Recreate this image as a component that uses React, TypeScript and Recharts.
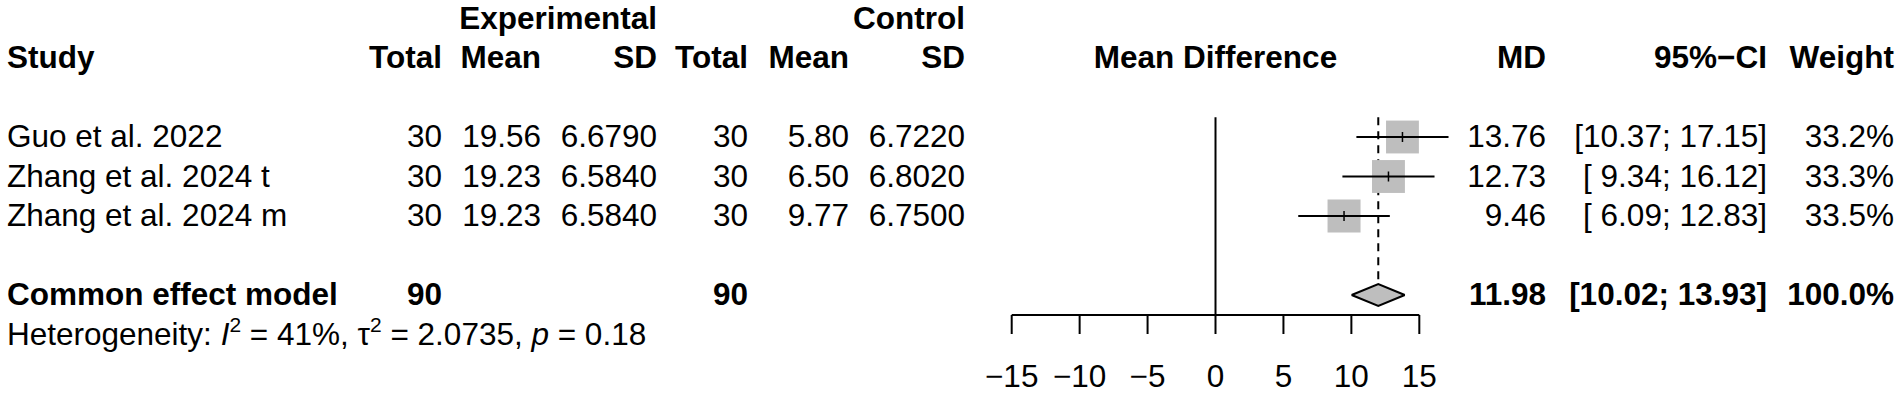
import {
  ComposedChart,
  XAxis,
  YAxis,
  Scatter,
  ErrorBar,
  Area,
  ReferenceLine,
} from 'recharts';

// study level data
const studies = ['Guo et al. 2022', 'Zhang et al. 2024 t', 'Zhang et al. 2024 m'];
const expTotal = [30, 30, 30];
const expMean = [19.56, 19.23, 19.23];
const expSD = [6.679, 6.584, 6.584];
const ctrlTotal = [30, 30, 30];
const ctrlMean = [5.8, 6.5, 9.77];
const ctrlSD = [6.722, 6.802, 6.75];
const md = [13.76, 12.73, 9.46];
const ciLow = [10.37, 9.34, 6.09];
const ciHigh = [17.15, 16.12, 12.83];
const weight = [33.2, 33.3, 33.5];

// pooled (common effect) result
const commonMD = 11.98;
const commonLow = 10.02;
const commonHigh = 13.93;
const commonWeight = 100.0;
const hetI2 = 41;
const hetTau2 = 2.0735;
const hetP = 0.18;

const axisTicks = [-15, -10, -5, 0, 5, 10, 15];

// layout
const FONT = '"Liberation Sans", Arial, Helvetica, sans-serif';
const FS = 31.5;
const BASE_DY = 10;
const ROW_TOP = 18.5;
const ROW_H = 39.5;
const AXIS_Y = 315;
const Y_MAX = (AXIS_Y - ROW_TOP) / ROW_H;
const X_MIN = -15;
const X_MAX = 18;
const PLOT_LEFT = 1011.7;
const PX_PER_UNIT = 13.587;
const PLOT_RIGHT = PLOT_LEFT + (X_MAX - X_MIN) * PX_PER_UNIT;
const W = 1902;
const H = 393;

const col = {
  study: 7,
  expTotal: 442,
  expMean: 541,
  expSD: 657,
  ctrlTotal: 748,
  ctrlMean: 849,
  ctrlSD: 965,
  effect: 1215.5,
  md: 1546,
  ci: 1767,
  weight: 1894,
};

// row indices
const ROW_GROUP = 0;
const ROW_HEAD = 1;
const FIRST_STUDY = 3;
const ROW_SUM = 7;
const ROW_HET = 8;
const rowTicks = [ROW_GROUP, ROW_HEAD, FIRST_STUDY, FIRST_STUDY + 1, FIRST_STUDY + 2, ROW_SUM, ROW_HET];
const DIAMOND_H = 11 / ROW_H;

const studyData = studies.map((name, i) => ({
  name,
  x: md[i],
  y: FIRST_STUDY + i,
  err: [md[i] - ciLow[i], ciHigh[i] - md[i]],
  w: weight[i],
}));

const diamondData = [
  { x: commonLow, d: [ROW_SUM, ROW_SUM] },
  { x: commonMD, d: [ROW_SUM - DIAMOND_H, ROW_SUM + DIAMOND_H] },
  { x: commonHigh, d: [ROW_SUM, ROW_SUM] },
];

const sum = (a: number[]) => a.reduce((s, v) => s + v, 0);
const fmtCI = (lo: number, hi: number) =>
  `[${lo.toFixed(2).padStart(5)}; ${hi.toFixed(2).padStart(5)}]`;

const Txt = ({ x, y, anchor = 'end', bold = false, children }: any) => (
  <text
    x={x}
    y={y + BASE_DY}
    textAnchor={anchor}
    fontFamily={FONT}
    fontSize={FS}
    fontWeight={bold ? 'bold' : 'normal'}
    fill="#000"
    style={{ whiteSpace: 'pre' }}
  >
    {children}
  </text>
);

// whole table row, drawn at the y of each row tick
const TableRow = (props: any) => {
  const { y, payload } = props;
  const r = payload.value;
  if (r === ROW_GROUP) {
    return (
      <g>
        <Txt x={col.expSD} y={y} bold>Experimental</Txt>
        <Txt x={col.ctrlSD} y={y} bold>Control</Txt>
      </g>
    );
  }
  if (r === ROW_HEAD) {
    return (
      <g>
        <Txt x={col.study} y={y} anchor="start" bold>Study</Txt>
        <Txt x={col.expTotal} y={y} bold>Total</Txt>
        <Txt x={col.expMean} y={y} bold>Mean</Txt>
        <Txt x={col.expSD} y={y} bold>SD</Txt>
        <Txt x={col.ctrlTotal} y={y} bold>Total</Txt>
        <Txt x={col.ctrlMean} y={y} bold>Mean</Txt>
        <Txt x={col.ctrlSD} y={y} bold>SD</Txt>
        <Txt x={col.effect} y={y} anchor="middle" bold>Mean Difference</Txt>
        <Txt x={col.md} y={y} bold>MD</Txt>
        <Txt x={col.ci} y={y} bold>{'95%\u2212CI'}</Txt>
        <Txt x={col.weight} y={y} bold>Weight</Txt>
      </g>
    );
  }
  if (r === ROW_SUM) {
    return (
      <g>
        <Txt x={col.study} y={y} anchor="start" bold>Common effect model</Txt>
        <Txt x={col.expTotal} y={y} bold>{sum(expTotal)}</Txt>
        <Txt x={col.ctrlTotal} y={y} bold>{sum(ctrlTotal)}</Txt>
        <Txt x={col.md} y={y} bold>{commonMD.toFixed(2)}</Txt>
        <Txt x={col.ci} y={y} bold>{fmtCI(commonLow, commonHigh)}</Txt>
        <Txt x={col.weight} y={y} bold>{`${commonWeight.toFixed(1)}%`}</Txt>
      </g>
    );
  }
  if (r === ROW_HET) {
    return (
      <text x={col.study} y={y + BASE_DY} fontFamily={FONT} fontSize={FS} fill="#000">
        Heterogeneity:{' '}
        <tspan fontStyle="italic">I</tspan>
        <tspan fontSize={21} dy={-13}>2</tspan>
        <tspan dy={13}>{` = ${hetI2}%, \u03c4`}</tspan>
        <tspan fontSize={21} dy={-13}>2</tspan>
        <tspan dy={13}>{` = ${hetTau2.toFixed(4)}, `}</tspan>
        <tspan fontStyle="italic">p</tspan>
        <tspan>{` = ${hetP.toFixed(2)}`}</tspan>
      </text>
    );
  }
  const i = r - FIRST_STUDY;
  if (i < 0 || i >= studies.length) return <g />;
  return (
    <g>
      <Txt x={col.study} y={y} anchor="start">{studies[i]}</Txt>
      <Txt x={col.expTotal} y={y}>{expTotal[i]}</Txt>
      <Txt x={col.expMean} y={y}>{expMean[i].toFixed(2)}</Txt>
      <Txt x={col.expSD} y={y}>{expSD[i].toFixed(4)}</Txt>
      <Txt x={col.ctrlTotal} y={y}>{ctrlTotal[i]}</Txt>
      <Txt x={col.ctrlMean} y={y}>{ctrlMean[i].toFixed(2)}</Txt>
      <Txt x={col.ctrlSD} y={y}>{ctrlSD[i].toFixed(4)}</Txt>
      <Txt x={col.md} y={y}>{md[i].toFixed(2)}</Txt>
      <Txt x={col.ci} y={y}>{fmtCI(ciLow[i], ciHigh[i])}</Txt>
      <Txt x={col.weight} y={y}>{`${weight[i].toFixed(1)}%`}</Txt>
    </g>
  );
};

const SquareShape = (props: any) => {
  const { cx, cy, payload } = props;
  const s = 33 * Math.sqrt(payload.w / 33.5);
  return <rect x={cx - s / 2} y={cy - s / 2} width={s} height={s} fill="#bebebe" />;
};

const CenterTick = (props: any) => {
  const { cx, cy } = props;
  return <line x1={cx} x2={cx} y1={cy - 5} y2={cy + 5} stroke="#000" strokeWidth={1.5} />;
};

export default function App() {
  return (
    <div style={{ position: 'absolute', left: 0, top: 0, width: W, height: H, background: '#fff' }}>
      <ComposedChart
        width={W}
        height={H}
        margin={{ top: ROW_TOP, right: W - PLOT_RIGHT, bottom: H - AXIS_Y - 60, left: 0 }}
      >
        <XAxis
          xAxisId={0}
          dataKey="x"
          type="number"
          domain={[X_MIN, X_MAX]}
          ticks={axisTicks}
          interval={0}
          height={60}
          axisLine={false}
          tickSize={19}
          tickMargin={31}
          tickLine={{ stroke: '#000', strokeWidth: 2 }}
          tick={{ fill: '#000', fontSize: FS, fontFamily: FONT }}
          tickFormatter={(v: number) => String(v).replace('-', '\u2212')}
        />
        <YAxis
          yAxisId="rows"
          dataKey="y"
          type="number"
          orientation="left"
          width={PLOT_LEFT}
          domain={[0, Y_MAX]}
          reversed
          ticks={rowTicks}
          interval={0}
          axisLine={false}
          tickLine={false}
          tick={TableRow}
        />

        {/* line of no effect and x axis line */}
        <ReferenceLine
          yAxisId="rows"
          ifOverflow="visible"
          segment={[{ x: 0, y: FIRST_STUDY - 0.5 }, { x: 0, y: Y_MAX }]}
          stroke="#000"
          strokeWidth={2}
        />
        <ReferenceLine
          yAxisId="rows"
          ifOverflow="visible"
          segment={[{ x: axisTicks[0], y: Y_MAX }, { x: axisTicks[axisTicks.length - 1], y: Y_MAX }]}
          stroke="#000"
          strokeWidth={2}
        />
        {/* pooled estimate dashed line */}
        <ReferenceLine
          yAxisId="rows"
          ifOverflow="visible"
          segment={[
            { x: commonMD, y: FIRST_STUDY - 0.5 },
            { x: commonMD, y: ROW_SUM - DIAMOND_H },
          ]}
          stroke="#000"
          strokeWidth={2}
          strokeDasharray="8 6"
        />

        <Area
          yAxisId="rows"
          data={diamondData}
          dataKey="d"
          type="linear"
          fill="#bebebe"
          fillOpacity={1}
          stroke="#000"
          strokeWidth={2}
          dot={false}
          activeDot={false}
          isAnimationActive={false}
        />

        <Scatter
          yAxisId="rows"
          data={studyData}
          shape={SquareShape}
          zIndex={550}
          isAnimationActive={false}
        />
        <Scatter
          yAxisId="rows"
          data={studyData}
          shape={CenterTick}
          zIndex={650}
          isAnimationActive={false}
        >
          <ErrorBar
            dataKey="err"
            direction="x"
            width={0}
            stroke="#000"
            strokeWidth={2}
            zIndex={700}
            isAnimationActive={false}
          />
        </Scatter>
      </ComposedChart>
    </div>
  );
}
